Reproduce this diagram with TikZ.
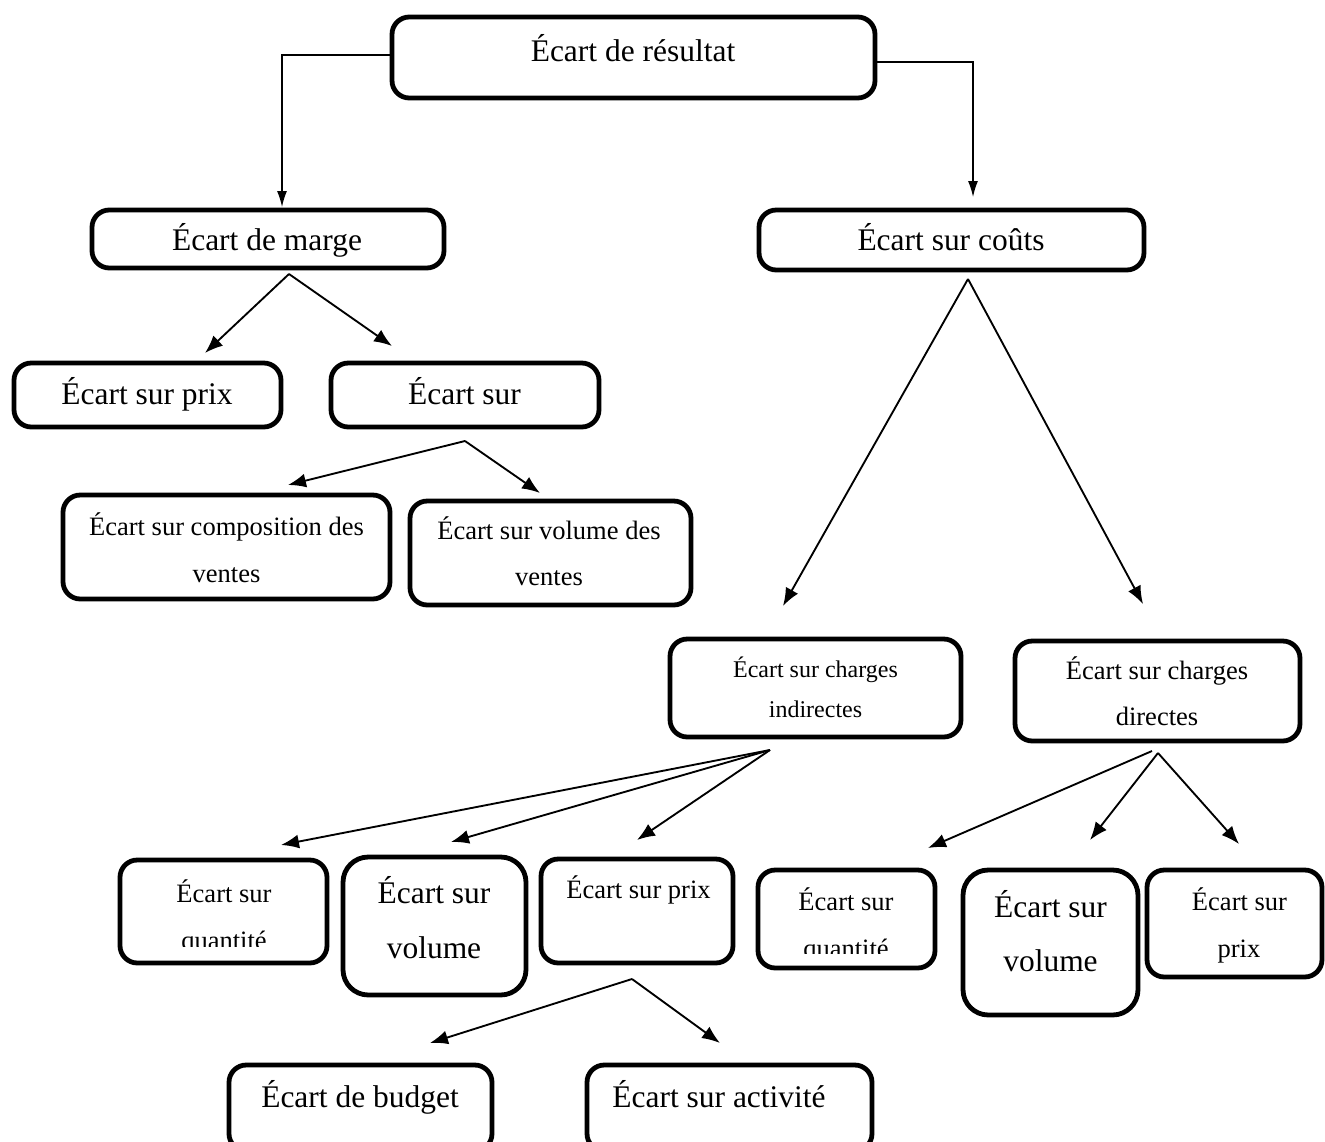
\documentclass[tikz,border=0pt]{standalone}
\usepackage{fontspec}
\setmainfont{Liberation Serif}
\usetikzlibrary{arrows.meta}
\newcommand\fbig{\fontsize{23.6}{28}\selectfont}
\newcommand\fmed{\fontsize{19.9}{24}\selectfont}
\newcommand\fsml{\fontsize{18}{22}\selectfont}
\begin{document}
\begin{tikzpicture}[x=0.75pt,y=-0.75pt,
  box/.style={draw, line width=3.6pt, rounded corners=13pt, inner sep=0pt, outer sep=0pt},
  tallbox/.style={box, rounded corners=19pt},
  bx/.style 2 args={minimum width=#1*0.75pt, minimum height=#2*0.75pt},
  lbl/.style={anchor=base, inner sep=0pt, outer sep=0pt},
  big/.style={lbl, font=\fbig},
  med/.style={lbl, font=\fmed},
  sml/.style={lbl, font=\fsml},
  link/.style={line width=1.4pt, -{Latex[length=13.5pt,width=10.5pt]}},
  elbow/.style={line width=1pt, -{Latex[length=12pt,width=7.5pt]}}]

\useasboundingbox (0,0) rectangle (1325,1142);
\clip (0,0) rectangle (1325,1142);

% boxes
\node[box, bx={483}{81}] (res) at (633.5,57.5) {};
\node[box, bx={352}{58}] (marge) at (268,239) {};
\node[box, bx={385}{60}] (couts) at (951.5,240) {};
\node[box, bx={267}{64}] (prixv) at (147.5,395) {};
\node[box, bx={268}{64}] (sur) at (465,395) {};
\node[box, bx={327}{104}] (compo) at (226.5,547) {};
\node[box, bx={281}{104}] (volv) at (550.5,553) {};
\node[box, bx={291}{98}] (indir) at (815.5,688) {};
\node[box, bx={285}{100}] (dir) at (1157.5,691) {};
\node[box, bx={207}{103}] (qi) at (223.5,911.5) {};
\node[tallbox, bx={183}{138}] (vi) at (434.5,926) {};
\node[box, bx={192}{104}] (pi) at (637,911) {};
\node[box, bx={177}{98}] (qd) at (846.5,919) {};
\node[tallbox, bx={175}{145}] (vd) at (1050.5,942.5) {};
\node[box, bx={175}{107}] (pd) at (1234.5,923.5) {};
\node[box, bx={263}{86}] (bud) at (360.5,1108) {};
\node[box, bx={285}{86}] (act) at (729.5,1108) {};

% labels
\node[big] (res-t) at (633,61) {Écart de résultat};
\begin{scope}
  \clip (90,210) rectangle (446,256);
  \node[big] (marge-t) at (267,250) {Écart de marge};
\end{scope}
\node[big] (couts-t) at (951,250) {Écart sur coûts};
\node[big] (prixv-t) at (147,404) {Écart sur prix};
\node[big] (sur-t) at (464.5,404) {Écart sur};
\node[med] (compo-t1) at (226.5,535) {Écart sur composition des};
\node[med] (compo-t2) at (226.5,582) {ventes};
\node[med] (volv-t1) at (549,539) {Écart sur volume des};
\node[med] (volv-t2) at (549,585) {ventes};
\node[sml] (indir-t1) at (815.5,677) {Écart sur charges};
\node[sml] (indir-t2) at (815.5,717) {indirectes};
\node[med] (dir-t1) at (1157,679) {Écart sur charges};
\node[med] (dir-t2) at (1157,725) {directes};
\node[med] (qi-t1) at (224,902) {Écart sur};
\begin{scope}
  \clip (120,910) rectangle (328,946);
  \node[med] (qi-t2) at (224,949) {quantité};
\end{scope}
\node[big] (vi-t1) at (434,903) {Écart sur};
\node[big] (vi-t2) at (434,958) {volume};
\node[med] (pi-t) at (638.5,898) {Écart sur prix};
\node[med] (qd-t1) at (846,910) {Écart sur};
\begin{scope}
  \clip (758,915) rectangle (935,953);
  \node[med] (qd-t2) at (846,957) {quantité};
\end{scope}
\node[big] (vd-t1) at (1050.5,917) {Écart sur};
\node[big] (vd-t2) at (1050.5,971) {volume};
\node[med] (pd-t1) at (1239.5,910) {Écart sur};
\node[med] (pd-t2) at (1239,957) {prix};
\node[big] (bud-t) at (360,1107) {Écart de budget};
\node[big] (act-t) at (719,1107) {Écart sur activité};

% connector ends
\coordinate (res-l) at (390,55);
\coordinate (res-r) at (877,62);
\coordinate (marge-in) at (282,207);
\coordinate (couts-in) at (973,197);
\coordinate (marge-out) at (289,274);
\coordinate (prixv-in) at (205,353);
\coordinate (sur-in) at (392,346);
\coordinate (sur-out) at (465,441);
\coordinate (compo-in) at (288,485);
\coordinate (volv-in) at (540,493);
\coordinate (couts-out) at (968,279);
\coordinate (indir-in) at (783,606);
\coordinate (dir-in) at (1143,604);
\coordinate (indir-out) at (770,750);
\coordinate (qi-in) at (281,845);
\coordinate (vi-in) at (451,842);
\coordinate (pi-in) at (637,840);
\coordinate (dir-outa) at (1152,751);
\coordinate (dir-out) at (1158,753);
\coordinate (qd-in) at (928,848);
\coordinate (vd-in) at (1090,840);
\coordinate (pd-in) at (1239,844);
\coordinate (pi-out) at (632,979);
\coordinate (bud-in) at (430,1043);
\coordinate (act-in) at (720,1043);

% connectors
\draw[elbow] (res-l) -| (marge-in);
\draw[elbow] (res-r) -| (couts-in);
\draw[link] (marge-out) -- (prixv-in);
\draw[link] (marge-out) -- (sur-in);
\draw[link] (sur-out) -- (compo-in);
\draw[link] (sur-out) -- (volv-in);
\draw[link] (couts-out) -- (indir-in);
\draw[link] (couts-out) -- (dir-in);
\draw[link] (indir-out) -- (qi-in);
\draw[link] (indir-out) -- (vi-in);
\draw[link] (indir-out) -- (pi-in);
\draw[link] (dir-outa) -- (qd-in);
\draw[link] (dir-out) -- (vd-in);
\draw[link] (dir-out) -- (pd-in);
\draw[link] (pi-out) -- (bud-in);
\draw[link] (pi-out) -- (act-in);
\end{tikzpicture}
\end{document}
